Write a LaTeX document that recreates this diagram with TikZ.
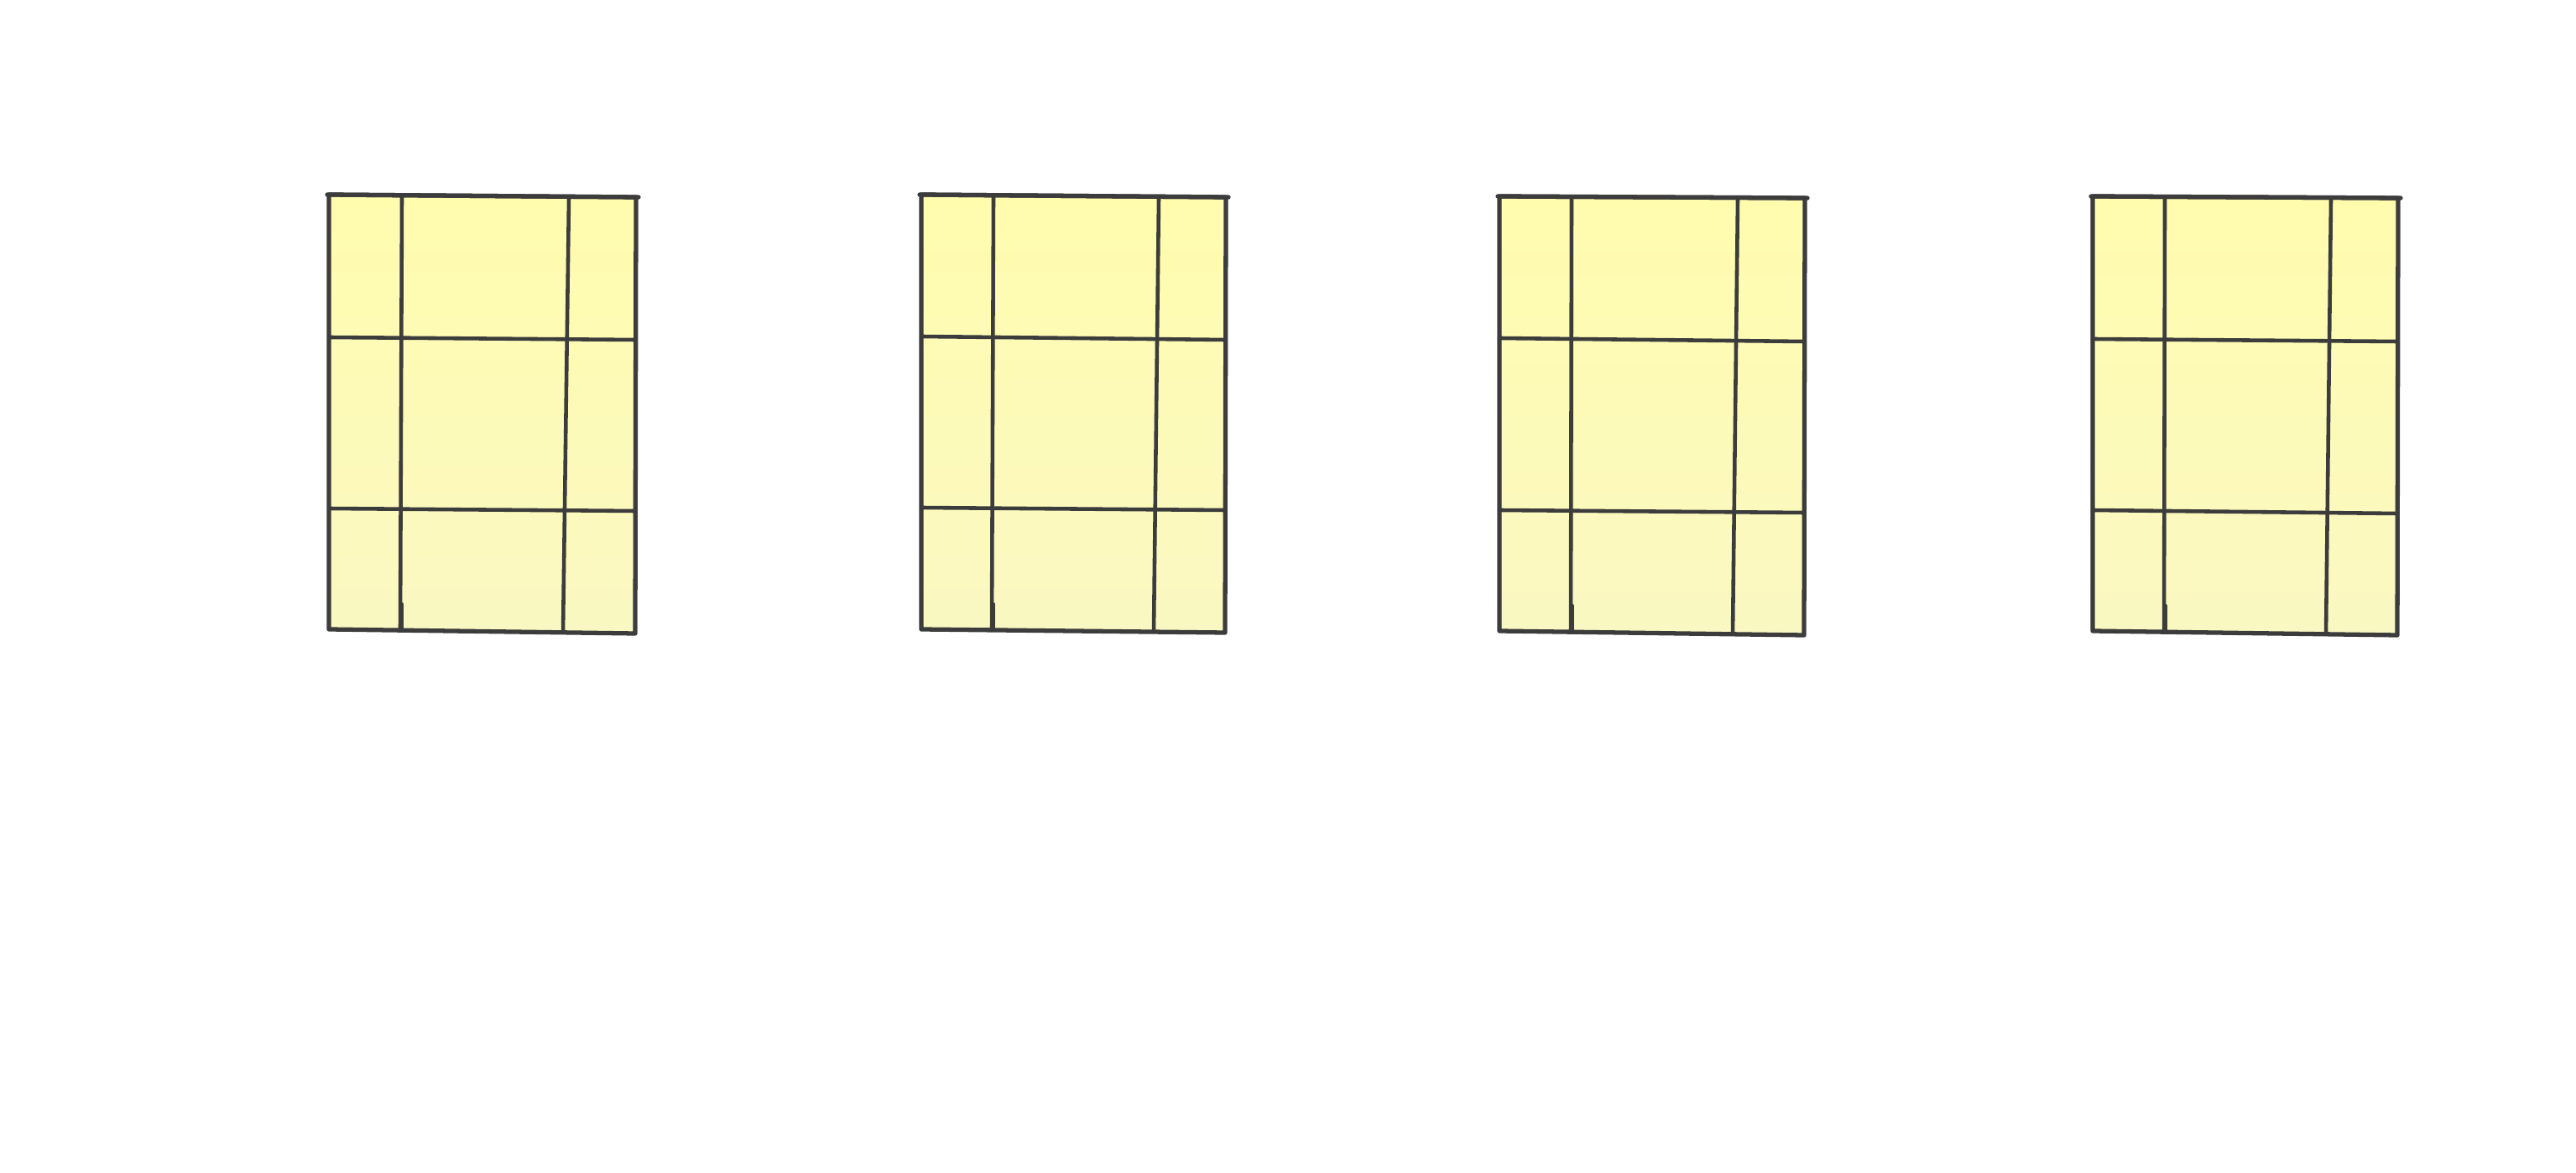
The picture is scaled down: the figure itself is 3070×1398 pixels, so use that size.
\documentclass[tikz,border=0pt]{standalone}
\definecolor{ink}{HTML}{3C3C3C}
\definecolor{ytop}{HTML}{FFFCAE}
\definecolor{ybot}{HTML}{FAF8C2}
\begin{document}
\begin{tikzpicture}[x=0.01cm,y=-0.01cm,
  frame/.style={draw=ink,line width=1.5pt,line cap=round,line join=round},
  gridline/.style={draw=ink,line width=1.3pt,line cap=round}]
\fill[white] (0,0) rectangle (3070,1398);
\useasboundingbox (0,0) rectangle (3070,1398);
\foreach \n/\L/\R/\ta/\tb/\ba/\bb/\va/\vb/\wa/\wb/\ha/\hb/\ka/\kb in {
  1/392/758/232/235/750/755/479/477/678/671/402/405/606/609,
  2/1098/1461/232/235/750/754/1184/1182/1381/1375/401/405/605/608,
  3/1787/2151/234/236/752/757/1873/1872/2071/2065/403/407/608/611,
  4/2494/2858/234/236/752/757/2580/2579/2778/2772/404/407/608/612}{
  \coordinate (tl\n) at (\L,\ta);
  \coordinate (tr\n) at (\R,\tb);
  \coordinate (br\n) at (\R-1,\bb);
  \coordinate (bl\n) at (\L,\ba);
  \coordinate (tlx\n) at (\L-2,\ta);
  \coordinate (trx\n) at (\R+3,\tb);
  \coordinate (vat\n) at (\va,\ta+1);
  \coordinate (vab\n) at (\vb,\ba+1);
  \coordinate (vbt\n) at (\wa,\tb);
  \coordinate (vbb\n) at (\wb,\bb-1);
  \coordinate (hal\n) at (\L,\ha);
  \coordinate (har\n) at (\R-1,\hb);
  \coordinate (hbl\n) at (\L,\ka);
  \coordinate (hbr\n) at (\R-1,\kb);
  \coordinate (stubt\n) at (\vb+1.5,\ba-30);
  \coordinate (stubb\n) at (\vb+1.5,\ba);
  \shade[top color=ytop,bottom color=ybot] (tl\n) -- (tr\n) -- (br\n) -- (bl\n) -- cycle;
  \draw[gridline] (vat\n) -- (vab\n);
  \draw[gridline] (vbt\n) -- (vbb\n);
  \draw[gridline] (hal\n) -- (har\n);
  \draw[gridline] (hbl\n) -- (hbr\n);
  \draw[gridline] (stubt\n) -- (stubb\n);
  \draw[frame] (tl\n) -- (tr\n) -- (br\n) -- (bl\n) -- cycle;
  \draw[frame] (tlx\n) -- (trx\n);
}
\end{tikzpicture}
\end{document}
